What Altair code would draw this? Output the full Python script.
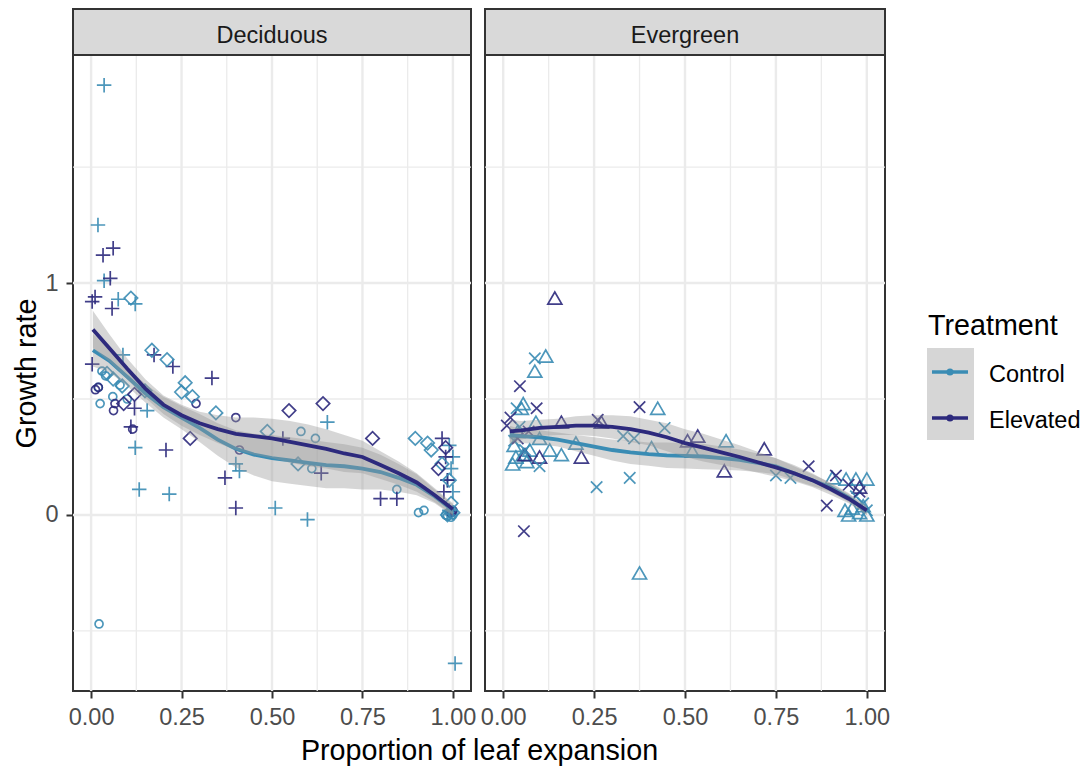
import altair as alt
import pandas as pd

CTRL = "#3a8cb4"
ELEV = "#2d2a7d"
TREATMENTS = ["Control", "Elevated"]

# ---------------- Deciduous points ----------------
DEC_CTRL_CIRCLE_X = [0.022, 0.025, 0.060, 0.020, 0.040, 0.080, 0.100, 0.030, 0.580, 0.620, 0.610, 0.845, 0.905, 0.920, 0.980, 0.990, 1.000, 0.995, 0.985, 1.000]
DEC_CTRL_CIRCLE_Y = [-0.47, 0.48, 0.51, 0.55, 0.60, 0.56, 0.50, 0.62, 0.36, 0.33, 0.20, 0.11, 0.01, 0.02, 0.00, 0.01, 0.00, -0.01, -0.005, 0.015]
DEC_ELEV_CIRCLE_X = [0.012, 0.020, 0.062, 0.066, 0.115, 0.290, 0.400, 0.410, 0.995, 1.000]
DEC_ELEV_CIRCLE_Y = [0.54, 0.55, 0.45, 0.48, 0.37, 0.48, 0.42, 0.28, 0.01, 0.02]

DEC_CTRL_PLUS_X = [0.036, 0.019, 0.036, 0.075, 0.088, 0.122, 0.155, 0.122, 0.133, 0.216, 0.400, 0.410, 0.509, 0.598, 0.653, 0.990, 1.000, 0.995, 0.985, 1.000, 0.990, 1.006]
DEC_CTRL_PLUS_Y = [1.853, 1.25, 1.01, 0.93, 0.69, 0.91, 0.45, 0.29, 0.11, 0.09, 0.22, 0.19, 0.03, -0.02, 0.40, 0.30, 0.25, 0.20, 0.15, 0.10, 0.02, -0.64]
DEC_ELEV_PLUS_X = [0.033, 0.061, 0.053, 0.011, 0.003, 0.058, 0.003, 0.120, 0.110, 0.174, 0.226, 0.334, 0.207, 0.370, 0.400, 0.530, 0.636, 0.800, 0.845, 0.970, 0.980, 0.985, 0.975]
DEC_ELEV_PLUS_Y = [1.12, 1.15, 1.02, 0.94, 0.92, 0.89, 0.65, 0.46, 0.38, 0.69, 0.64, 0.59, 0.28, 0.16, 0.03, 0.33, 0.18, 0.07, 0.07, 0.33, 0.25, 0.15, 0.10]

DEC_CTRL_DIAM_X = [0.110, 0.044, 0.061, 0.086, 0.149, 0.168, 0.210, 0.250, 0.260, 0.280, 0.345, 0.487, 0.572, 0.896, 0.930, 0.940, 0.970, 0.990, 0.995, 0.985, 1.000]
DEC_CTRL_DIAM_Y = [0.935, 0.61, 0.586, 0.556, 0.535, 0.71, 0.67, 0.53, 0.57, 0.51, 0.44, 0.36, 0.22, 0.33, 0.31, 0.28, 0.22, 0.15, 0.05, 0.00, 0.01]
DEC_ELEV_DIAM_X = [0.090, 0.120, 0.274, 0.547, 0.641, 0.778, 0.960, 0.980]
DEC_ELEV_DIAM_Y = [0.48, 0.52, 0.33, 0.45, 0.48, 0.33, 0.20, 0.29]

# ---------------- Evergreen points ----------------
EVG_CTRL_TRI_X = [0.026, 0.030, 0.040, 0.050, 0.055, 0.055, 0.073, 0.087, 0.090, 0.117, 0.128, 0.160, 0.200, 0.375, 0.408, 0.425, 0.520, 0.613, 0.905, 0.943, 0.970, 1.000, 0.950, 0.980, 1.000, 0.960, 0.035, 0.065, 0.100, 0.940, 0.990]
EVG_CTRL_TRI_Y = [0.22, 0.30, 0.36, 0.46, 0.48, 0.26, 0.28, 0.62, 0.40, 0.685, 0.28, 0.26, 0.31, -0.25, 0.29, 0.46, 0.275, 0.32, 0.16, 0.155, 0.155, 0.155, 0.00, 0.01, 0.00, 0.03, 0.25, 0.23, 0.33, 0.02, 0.04]
EVG_ELEV_TRI_X = [0.060, 0.142, 0.160, 0.215, 0.507, 0.535, 0.608, 0.718, 0.980, 0.100, 0.270]
EVG_ELEV_TRI_Y = [0.26, 0.935, 0.40, 0.25, 0.32, 0.34, 0.19, 0.285, 0.12, 0.25, 0.40]

EVG_CTRL_X_X = [0.030, 0.037, 0.060, 0.087, 0.100, 0.257, 0.348, 0.444, 0.750, 0.790, 0.970, 0.990, 1.000, 0.045, 0.330, 0.360]
EVG_CTRL_X_Y = [0.32, 0.46, 0.28, 0.675, 0.21, 0.12, 0.16, 0.375, 0.17, 0.16, 0.08, 0.05, 0.02, 0.38, 0.34, 0.33]
EVG_ELEV_X_X = [0.010, 0.040, 0.046, 0.057, 0.070, 0.092, 0.260, 0.375, 0.840, 0.890, 0.915, 0.980, 0.020, 0.950]
EVG_ELEV_X_Y = [0.385, 0.33, 0.555, -0.07, 0.36, 0.46, 0.41, 0.465, 0.21, 0.04, 0.17, 0.10, 0.42, 0.13]

# ---------------- Smoothers ----------------
DEC_SM_X = [0.005, 0.05, 0.1, 0.15, 0.2, 0.25, 0.3, 0.35, 0.4, 0.45, 0.5, 0.55, 0.6, 0.65, 0.7, 0.75, 0.8, 0.85, 0.9, 0.95, 1.0]
DEC_CTRL_FIT = [0.71, 0.665, 0.595, 0.525, 0.465, 0.42, 0.375, 0.325, 0.285, 0.26, 0.245, 0.235, 0.225, 0.215, 0.21, 0.20, 0.185, 0.16, 0.13, 0.08, 0.02]
DEC_CTRL_SE = [0.07, 0.05, 0.04, 0.04, 0.045, 0.05, 0.06, 0.07, 0.08, 0.09, 0.10, 0.10, 0.10, 0.10, 0.095, 0.09, 0.075, 0.06, 0.045, 0.03, 0.025]
DEC_ELEV_FIT = [0.80, 0.72, 0.63, 0.545, 0.475, 0.43, 0.395, 0.37, 0.35, 0.34, 0.33, 0.315, 0.30, 0.285, 0.265, 0.25, 0.215, 0.18, 0.14, 0.085, 0.025]
DEC_ELEV_SE = [0.08, 0.06, 0.045, 0.04, 0.04, 0.045, 0.05, 0.06, 0.07, 0.08, 0.085, 0.09, 0.09, 0.085, 0.08, 0.07, 0.06, 0.05, 0.04, 0.03, 0.025]

EVG_SM_X = [0.018, 0.05, 0.1, 0.15, 0.2, 0.25, 0.3, 0.35, 0.4, 0.45, 0.5, 0.55, 0.6, 0.65, 0.7, 0.75, 0.8, 0.85, 0.9, 0.95, 1.0]
EVG_CTRL_FIT = [0.345, 0.34, 0.335, 0.325, 0.31, 0.295, 0.28, 0.27, 0.262, 0.257, 0.255, 0.252, 0.245, 0.237, 0.225, 0.21, 0.18, 0.15, 0.12, 0.075, 0.015]
EVG_CTRL_SE = [0.04, 0.03, 0.03, 0.03, 0.035, 0.04, 0.045, 0.05, 0.05, 0.055, 0.055, 0.055, 0.05, 0.045, 0.04, 0.035, 0.03, 0.025, 0.02, 0.02, 0.015]
EVG_ELEV_FIT = [0.36, 0.365, 0.375, 0.38, 0.385, 0.385, 0.38, 0.37, 0.355, 0.335, 0.31, 0.29, 0.27, 0.25, 0.227, 0.205, 0.18, 0.15, 0.112, 0.07, 0.02]
EVG_ELEV_SE = [0.05, 0.04, 0.035, 0.035, 0.04, 0.045, 0.05, 0.055, 0.055, 0.06, 0.06, 0.06, 0.055, 0.05, 0.045, 0.04, 0.035, 0.03, 0.025, 0.02, 0.02]

# ---------------- Axes / grid ----------------
X_MAJOR = [0, 0.25, 0.5, 0.75, 1.0]
X_MINOR = [0.125, 0.375, 0.625, 0.875]
Y_MAJOR = [0, 1]
Y_MINOR = [-0.5, 0.5, 1.5]
X_DOMAIN = [-0.05, 1.05]
Y_DOMAIN = [-0.759, 1.983]

PLUS = "M-1,0L1,0M0,-1L0,1"
CROSS_X = "M-1,-1L1,1M-1,1L1,-1"

PANEL_H = 636
STRIP_H = 46
TICK_FS = 23.5
TITLE_FS = 28.7

color_enc = alt.Color("treatment:N", scale=alt.Scale(domain=TREATMENTS, range=[CTRL, ELEV]), legend=None)


def pts_df(ctrl_x, ctrl_y, elev_x, elev_y):
    rows = []
    for t, xs, ys in (("Control", ctrl_x, ctrl_y), ("Elevated", elev_x, elev_y)):
        for a, b in zip(xs, ys):
            rows.append({"x": a, "y": b, "treatment": t})
    return pd.DataFrame(rows)


def sm_df(xs, fit, se):
    return pd.DataFrame({"x": xs, "fit": fit,
                         "lo": [f - s for f, s in zip(fit, se)],
                         "hi": [f + s for f, s in zip(fit, se)]})


def panel(name, width, point_sets, smooth_sets, show_y, x_title):
    xaxis = alt.Axis(values=X_MAJOR, format=".2f", labelFlush=False, labelOverlap=False,
                     tickSize=7, tickWidth=2, tickColor="#333333", labelPadding=7,
                     labelFontSize=TICK_FS, labelColor="#4d4d4d", domain=False, grid=False,
                     titleFontSize=TITLE_FS, titleFontWeight="normal", titleColor="#000000",
                     titleX=-6, titleY=68, titleBaseline="alphabetic", titleAlign="center")
    if show_y:
        yaxis = alt.Axis(values=Y_MAJOR, tickSize=7, tickWidth=2, tickColor="#333333",
                         labelPadding=8, labelFontSize=TICK_FS, labelColor="#4d4d4d",
                         domain=False, grid=False, titleFontSize=TITLE_FS,
                         titleFontWeight="normal", titleColor="#000000",
                         titleX=-38, titleY=PANEL_H / 2, titleBaseline="alphabetic",
                         titleAlign="center", titleAngle=270)
        ytitle = "Growth rate"
    else:
        yaxis = None
        ytitle = None

    def X(f):
        return alt.X(f + ":Q", scale=alt.Scale(domain=X_DOMAIN, nice=False, zero=False),
                     axis=xaxis, title=x_title)

    def Y(f):
        return alt.Y(f + ":Q", scale=alt.Scale(domain=Y_DOMAIN, nice=False, zero=False),
                     axis=yaxis, title=ytitle)

    layers = []
    layers.append(alt.Chart(pd.DataFrame({"x": X_MINOR})).mark_rule(color="#ebebeb", strokeWidth=1.3).encode(x=X("x")))
    layers.append(alt.Chart(pd.DataFrame({"y": Y_MINOR})).mark_rule(color="#ebebeb", strokeWidth=1.3).encode(y=Y("y")))
    layers.append(alt.Chart(pd.DataFrame({"x": X_MAJOR})).mark_rule(color="#ebebeb", strokeWidth=2.4).encode(x=X("x")))
    layers.append(alt.Chart(pd.DataFrame({"y": Y_MAJOR})).mark_rule(color="#ebebeb", strokeWidth=2.4).encode(y=Y("y")))

    for df, shape, size in point_sets:
        layers.append(alt.Chart(df).mark_point(shape=shape, size=size, filled=False,
                                               strokeWidth=1.7, opacity=0.9)
                      .encode(x=X("x"), y=Y("y"), color=color_enc))

    for df, col in smooth_sets:
        layers.append(alt.Chart(df).mark_area(color="#999999", opacity=0.4)
                      .encode(x=X("x"), y=Y("lo"), y2=alt.Y2("hi:Q")))
        layers.append(alt.Chart(df).mark_line(color=col, strokeWidth=3.8)
                      .encode(x=X("x"), y=Y("fit")))

    lab = pd.DataFrame({"label": [name]})
    layers.append(alt.Chart(lab).mark_rect(fill="#d9d9d9", stroke="#333333", strokeWidth=2)
                  .encode(x=alt.value(0), x2=alt.value(width), y=alt.value(-STRIP_H), y2=alt.value(0)))
    layers.append(alt.Chart(lab).mark_text(fontSize=TICK_FS, color="#1a1a1a", baseline="alphabetic", align="center")
                  .encode(text="label:N", x=alt.value(width / 2), y=alt.value(-12)))

    return alt.layer(*layers).properties(width=width, height=PANEL_H)


dec = panel(
    "Deciduous", 398,
    [
        (pts_df(DEC_CTRL_CIRCLE_X, DEC_CTRL_CIRCLE_Y, DEC_ELEV_CIRCLE_X, DEC_ELEV_CIRCLE_Y), "circle", 64),
        (pts_df(DEC_CTRL_PLUS_X, DEC_CTRL_PLUS_Y, DEC_ELEV_PLUS_X, DEC_ELEV_PLUS_Y), PLUS, 210),
        (pts_df(DEC_CTRL_DIAM_X, DEC_CTRL_DIAM_Y, DEC_ELEV_DIAM_X, DEC_ELEV_DIAM_Y), "diamond", 180),
    ],
    [
        (sm_df(DEC_SM_X, DEC_CTRL_FIT, DEC_CTRL_SE), CTRL),
        (sm_df(DEC_SM_X, DEC_ELEV_FIT, DEC_ELEV_SE), ELEV),
    ],
    True, None,
)

evg = panel(
    "Evergreen", 400,
    [
        (pts_df(EVG_CTRL_TRI_X, EVG_CTRL_TRI_Y, EVG_ELEV_TRI_X, EVG_ELEV_TRI_Y), "triangle-up", 196),
        (pts_df(EVG_CTRL_X_X, EVG_CTRL_X_Y, EVG_ELEV_X_X, EVG_ELEV_X_Y), CROSS_X, 130),
    ],
    [
        (sm_df(EVG_SM_X, EVG_CTRL_FIT, EVG_CTRL_SE), CTRL),
        (sm_df(EVG_SM_X, EVG_ELEV_FIT, EVG_ELEV_SE), ELEV),
    ],
    False, "Proportion of leaf expansion",
)

# ---------------- Legend ----------------
leg = pd.DataFrame({"treatment": TREATMENTS})
leg_title = pd.DataFrame({"t": ["Treatment"]})
ypos = alt.Y("treatment:N", scale=alt.Scale(type="point", domain=TREATMENTS, range=[317, 363], padding=0), axis=None)

legend = alt.layer(
    alt.Chart(leg_title).mark_rect(fill="#d6d6d6").encode(
        x=alt.value(28), x2=alt.value(75), y=alt.value(293), y2=alt.value(385)),
    alt.Chart(leg_title).mark_text(fontSize=TITLE_FS, align="left", baseline="alphabetic", color="#000000").encode(
        text="t:N", x=alt.value(29), y=alt.value(280)),
    alt.Chart(leg).mark_rule(strokeWidth=3.5).encode(
        x=alt.value(33), x2=alt.value(69), y=ypos, color=color_enc),
    alt.Chart(leg).mark_circle(size=50, opacity=1).encode(
        x=alt.value(51), y=ypos, color=color_enc),
    alt.Chart(leg).mark_text(fontSize=TICK_FS, align="left", baseline="middle", dy=3, color="#000000").encode(
        x=alt.value(90), y=ypos, text="treatment:N"),
).properties(width=160, height=PANEL_H, view=alt.ViewBackground(stroke="transparent"))

chart = alt.hconcat(dec, evg, legend, spacing=14, bounds="flush").properties(
    padding={"left": 11, "top": 7, "right": 5, "bottom": 5},
    background="white",
).configure(font="Liberation Sans").configure_view(stroke="#333333", strokeWidth=2)

chart.save("out.html", embed_options={"renderer": "svg", "actions": False})
